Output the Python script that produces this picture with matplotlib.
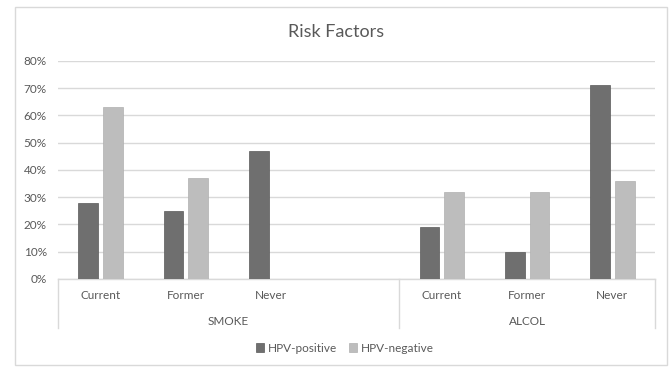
import numpy as np
import matplotlib.pyplot as plt
from matplotlib.patches import Rectangle

plt.rcParams['font.family'] = ['Lato', 'DejaVu Sans']

# datos
categories = ['Current', 'Former', 'Never', '', 'Current', 'Former', 'Never']
groups = ['SMOKE', 'ALCOL']
group_spans = [(-0.5, 3.5), (3.5, 6.5)]
hpv_positive = [28, 25, 47, np.nan, 19, 10, 71]
hpv_negative = [63, 37, np.nan, np.nan, 32, 32, 36]
yticks = [0, 10, 20, 30, 40, 50, 60, 70, 80]

dark = '#6f6f6f'
light = '#bdbdbd'
text_col = '#595959'
grid_col = '#d9d9d9'

fig = plt.figure(figsize=(6.72, 3.69), dpi=100)
ax = fig.add_axes([0.0863, 0.244, 0.8884, 0.591])

x = np.arange(len(categories))
w = 0.23
off = 0.145
ax.bar(x - off, hpv_positive, w, color=dark, edgecolor='#5a5a5a', linewidth=0.5,
       label='HPV-positive', zorder=3)
ax.bar(x + off, hpv_negative, w, color=light, edgecolor='#b0b0b0', linewidth=0.5,
       label='HPV-negative', zorder=3)

ax.set_xlim(-0.5, 6.5)
ax.set_ylim(0, 80)
ax.set_yticks(yticks)
ax.set_yticklabels([f'{v}%' for v in yticks], color=text_col, fontsize=8.5)
ax.yaxis.grid(True, color=grid_col, linewidth=1, zorder=0)
ax.tick_params(axis='y', length=0, pad=8)
ax.tick_params(axis='x', length=0)
ax.set_xticks([])
for s in ['top', 'right', 'left']:
    ax.spines[s].set_visible(False)
ax.spines['bottom'].set_color(grid_col)
ax.spines['bottom'].set_linewidth(1)

# etiquetas de dos niveles
tr = ax.get_xaxis_transform()
for xi, lab in zip(x, categories):
    ax.text(xi, -0.078, lab, transform=tr, ha='center', va='center',
            color=text_col, fontsize=8.5)
for g, (a, b) in zip(groups, group_spans):
    ax.text((a + b) / 2, -0.193, g, transform=tr, ha='center', va='center',
            color=text_col, fontsize=8.5)
for xe in [-0.5, 3.5, 6.5]:
    ax.plot([xe, xe], [0, -0.225], transform=tr, color=grid_col, lw=1,
            clip_on=False)

fig.text(0.5 + 0.0, 1 - 32 / 369, 'Risk Factors', ha='center', va='center',
         color=text_col, fontsize=13)

fig.legend(loc='center', bbox_to_anchor=(0.513, 1 - 348 / 369), ncol=2,
           frameon=False, fontsize=8.5, handlelength=0.7, handleheight=0.7,
           handletextpad=0.3, columnspacing=1.0, labelcolor=text_col)

fig.add_artist(Rectangle((15 / 672, 4 / 369), 652 / 672, 358 / 369,
                         transform=fig.transFigure, fill=False,
                         edgecolor=grid_col, lw=1))

fig.savefig('out.png', dpi=100)
